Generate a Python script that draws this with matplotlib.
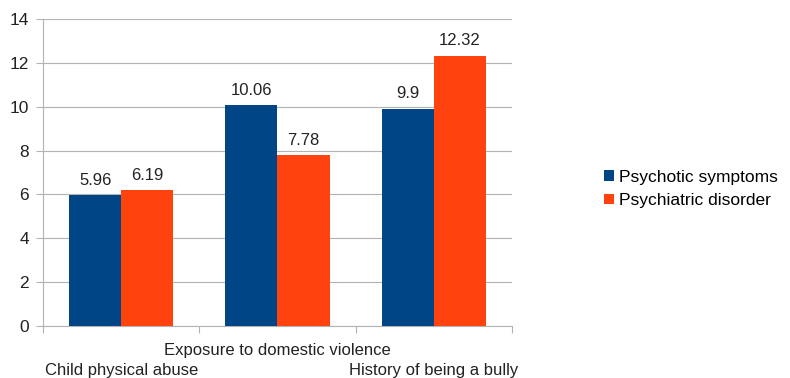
import matplotlib
matplotlib.use("Agg")
import matplotlib.pyplot as plt
import matplotlib.transforms as mtransforms
import numpy as np

plt.rcParams["font.family"] = ["Liberation Sans", "DejaVu Sans"]

categories = ["Child physical abuse", "Exposure to domestic violence", "History of being a bully"]
series_names = ["Psychotic symptoms", "Psychiatric disorder"]
psychotic = [5.96, 10.06, 9.9]
psychiatric = [6.19, 7.78, 12.32]
colors = ["#004586", "#ff420e"]
text_color = "#222222"

fig = plt.figure(figsize=(7.9, 3.78), dpi=100)
ax = fig.add_axes([0.0544, 0.1376, 0.5937, 0.8121])

x = np.arange(len(categories)) + 0.5
width = 0.333
for i, (vals, name) in enumerate(zip([psychotic, psychiatric], series_names)):
    pos = x + (i - 0.5) * width
    ax.bar(pos, vals, width=width, color=colors[i], label=name, zorder=3)
    for p, v in zip(pos, vals):
        ax.text(p, v + 0.35, f"{v:g}", ha="center", va="bottom", fontsize=12, color=text_color)

ax.set_xlim(0, len(categories))
ax.set_ylim(0, 14)
ax.set_yticks(range(0, 15, 2))
ax.yaxis.grid(True, color="#b3b3b3", linewidth=0.8, zorder=0)
ax.set_axisbelow(True)

# category boundaries get the tick marks, centres carry the labels
ax.set_xticks(range(len(categories) + 1))
ax.set_xticklabels([])
ax.set_xticks(x, minor=True)
ax.set_xticklabels(categories, minor=True)
ax.tick_params(axis="x", which="minor", length=0, pad=12, labelsize=12, labelcolor=text_color)
ax.tick_params(axis="x", which="major", length=5, color="#b3b3b3")
ax.tick_params(axis="y", length=5, color="#b3b3b3", labelsize=12.5, labelcolor=text_color, pad=5)

# stagger: odd labels drop one row, as in the original
for i, lbl in enumerate(ax.xaxis.get_minorticklabels()):
    if i % 2 == 0:
        lbl.set_transform(
            lbl.get_transform() + mtransforms.ScaledTranslation(0, -0.2, fig.dpi_scale_trans)
        )

for side in ["top", "right"]:
    ax.spines[side].set_visible(False)
for side in ["left", "bottom"]:
    ax.spines[side].set_color("#b3b3b3")

ax.legend(
    loc="center left",
    bbox_to_anchor=(0.745, 0.5),
    bbox_transform=fig.transFigure,
    frameon=False,
    fontsize=12.5,
    handlelength=0.55,
    handleheight=0.55,
    handletextpad=0.3,
    labelspacing=0.5,
)

fig.savefig("out.png", dpi=100)
